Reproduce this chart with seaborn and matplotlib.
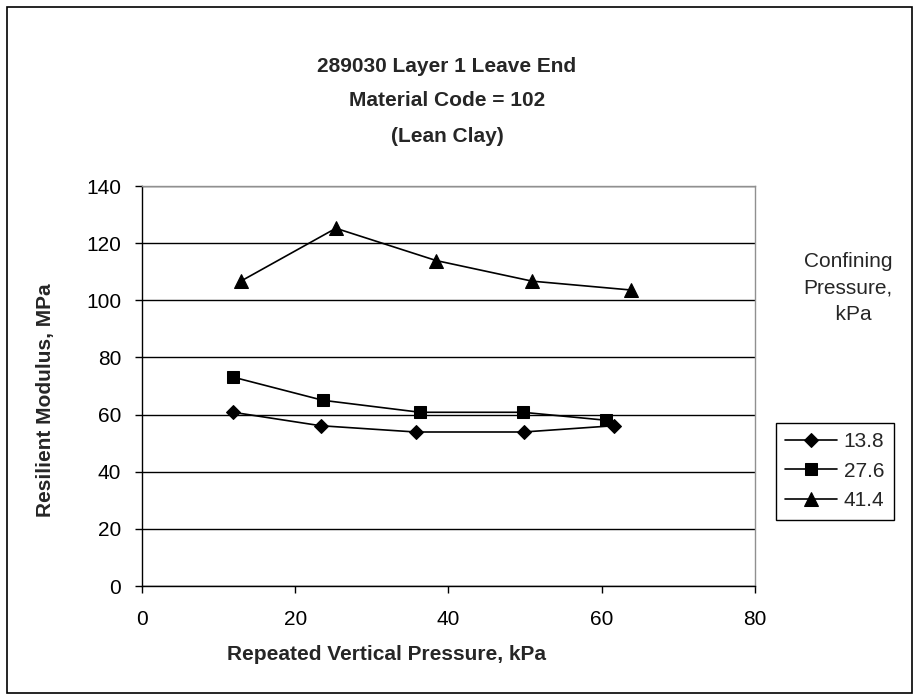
import matplotlib
matplotlib.use('Agg')
import matplotlib.pyplot as plt
import pandas as pd
import seaborn as sns
from matplotlib.patches import Rectangle

sns.set_theme(style="white")
plt.rcParams['font.family'] = ['Liberation Sans', 'DejaVu Sans']

# Values
confining = ['13.8', '27.6', '41.4']
vert_13_8 = [11.9, 23.3, 35.7, 49.8, 61.6]
mr_13_8 = [60.8, 56.1, 53.9, 53.9, 56.1]
vert_27_6 = [11.9, 23.6, 36.3, 49.7, 60.6]
mr_27_6 = [73.1, 65.0, 60.8, 60.8, 58.0]
vert_41_4 = [12.9, 25.3, 38.4, 50.9, 63.8]
mr_41_4 = [106.7, 125.2, 113.9, 106.7, 103.6]

df = pd.DataFrame({
	'x': vert_13_8 + vert_27_6 + vert_41_4,
	'y': mr_13_8 + mr_27_6 + mr_41_4,
	'Confining': [confining[0]] * 5 + [confining[1]] * 5 + [confining[2]] * 5,
})

fs = 15
fig = plt.figure(figsize=(9.2, 7), dpi=100)
ax = fig.add_axes([142 / 920, 1 - 586 / 700, (755 - 142) / 920, (586 - 186) / 700])

markers = {'13.8': 'D', '27.6': 's', '41.4': '^'}
sizes_map = {'13.8': 7.5, '27.6': 9, '41.4': 10}
palette = {c: 'black' for c in confining}
sns.lineplot(data=df, x='x', y='y', hue='Confining', style='Confining', markers=markers, dashes=False,
             palette=palette, sort=False, ax=ax, linewidth=1.2, markersize=9, markeredgecolor='black')
for line, c in zip(ax.lines, confining):
	line.set_markersize(sizes_map[c])

ax.set_xlim(0, 80)
ax.set_ylim(0, 140)
ax.set_xticks(range(0, 81, 20))
ax.set_yticks(range(0, 141, 20))
ax.tick_params(axis='both', labelsize=fs, colors='black', direction='out', length=5, width=1)
ax.tick_params(axis='x', pad=12)
ax.tick_params(axis='y', pad=10)
ax.tick_params(left=True, bottom=True)
ax.yaxis.grid(True, color='black', linewidth=1)
ax.xaxis.grid(False)
ax.spines['left'].set_color('black')
ax.spines['bottom'].set_color('black')
ax.spines['top'].set_color('#909090')
ax.spines['right'].set_color('#909090')
for s in ax.spines.values():
	s.set_linewidth(1)
ax.set_xlabel('')
ax.set_ylabel('')

# Legend
handles, labels = ax.get_legend_handles_labels()
for h, c in zip(handles, confining):
	h.set_markersize(sizes_map[c])
ax.legend(handles, labels, loc='upper left', bbox_to_anchor=(776 / 920, 1 - 423 / 700),
          bbox_transform=fig.transFigure, borderaxespad=0, fontsize=fs, frameon=True, fancybox=False,
          edgecolor='black', framealpha=1, handlelength=2.5, handletextpad=0.3, labelspacing=0.5,
          borderpad=0.45)
ax.get_legend().get_frame().set_linewidth(1)

# Titles and labels
title_lines = ['289030 Layer 1 Leave End', 'Material Code = 102', '(Lean Clay)']
for t, yy in zip(title_lines, [66, 101, 137]):
	fig.text(447 / 920, 1 - yy / 700, t, ha='center', va='center', fontsize=fs, fontweight='bold')
fig.text(387 / 920, 1 - 655 / 700, 'Repeated Vertical Pressure, kPa', ha='center', va='center', fontsize=fs,
         fontweight='bold')
fig.text(46 / 920, 1 - 400 / 700, 'Resilient Modulus, MPa', ha='center', va='center', rotation=90, fontsize=fs,
         fontweight='bold')
fig.text(848 / 920, 1 - 288 / 700, 'Confining\nPressure,\n  kPa', ha='center', va='center', fontsize=fs,
         linespacing=1.5, multialignment='center')

# Outer border
fig.patches.append(Rectangle((7 / 920, 7 / 700), 905 / 920, 686 / 700, transform=fig.transFigure, fill=False,
                             edgecolor='black', linewidth=1.2))

plt.savefig('out.png', dpi=100)
